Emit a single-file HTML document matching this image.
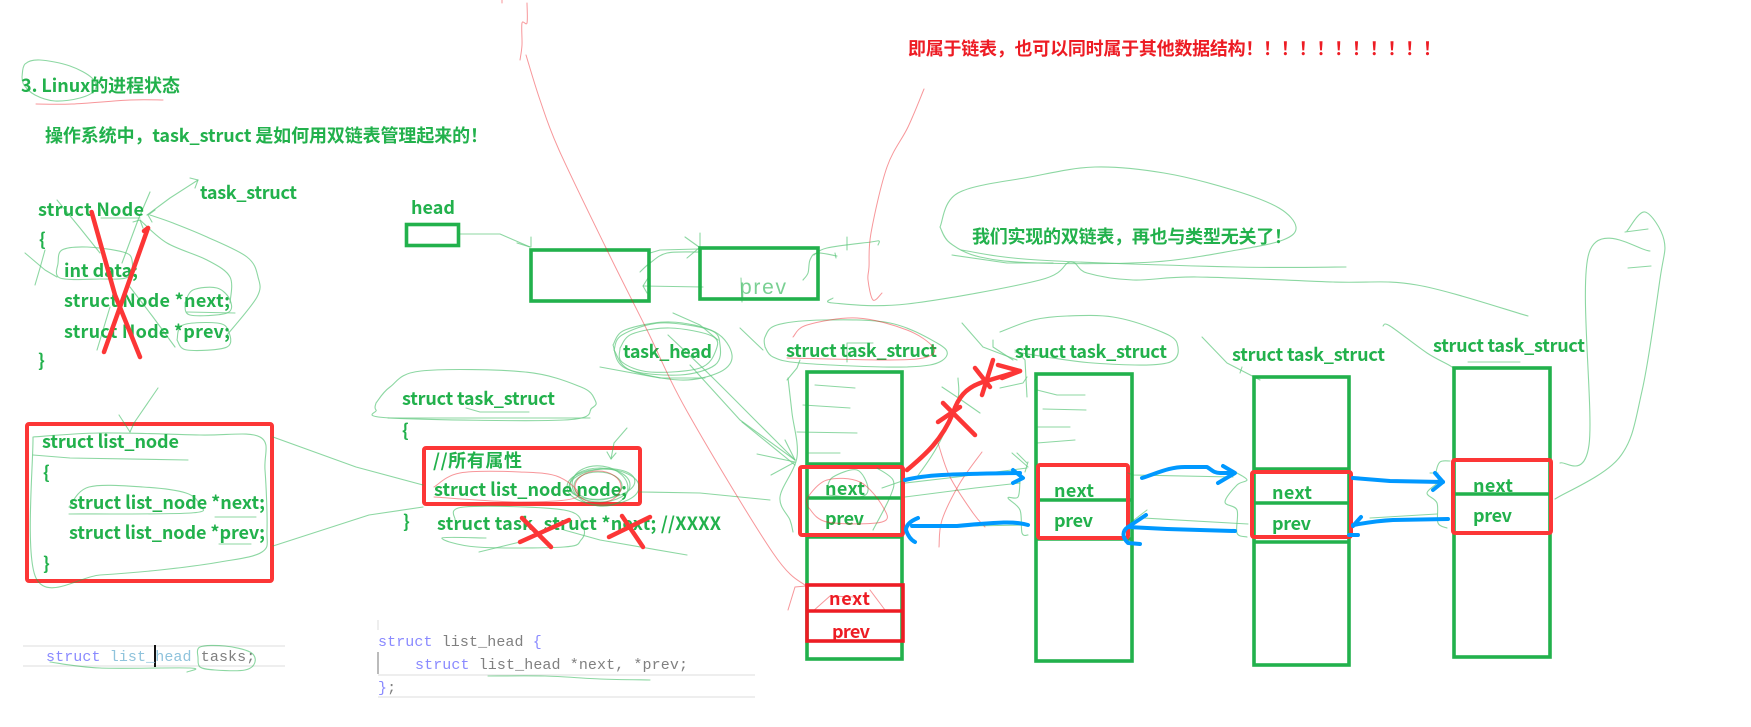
<!DOCTYPE html>
<html lang="zh"><head><meta charset="utf-8"><title>task_struct 双链表</title>
<style>
html,body{margin:0;padding:0;background:#fff;width:1751px;height:727px;overflow:hidden}
svg{display:block}
text{font-family:"Noto Sans CJK SC","Liberation Sans",sans-serif;font-size:18px;font-weight:700;fill:#22b14c}
.r{fill:#ed1c24}
.c{font-family:"Liberation Mono",monospace;font-size:15px;font-weight:400;fill:#808080;white-space:pre;letter-spacing:.1px}
.k{fill:#8a8aff}.t{fill:#8fc3dc}
.g,.g *{fill:none;stroke:#22b14c;stroke-width:1.1;opacity:.72;stroke-linejoin:round;stroke-linecap:round}
.tr,.tr *{fill:none;stroke:#ed1c24;stroke-width:1;opacity:.68;stroke-linejoin:round;stroke-linecap:round}
.bx{fill:none;stroke:#22b14c;stroke-width:3.6}
.rb{fill:none;stroke:#fc3636;stroke-width:4;stroke-linejoin:round}
.rs{fill:none;stroke:#fc3636;stroke-width:4.5;stroke-linecap:round;stroke-linejoin:round}
.bl{fill:none;stroke:#0098ff;stroke-width:4;stroke-linecap:round;stroke-linejoin:round}
</style></head><body>
<svg width="1751" height="727" viewBox="0 0 1751 727" xmlns="http://www.w3.org/2000/svg">
<!-- code strips -->
<g fill="#eeeeee">
<rect x="23" y="645" width="262" height="2"/><rect x="23" y="665" width="262" height="2"/>
<rect x="378" y="674" width="377" height="2"/><rect x="378" y="696" width="377" height="2"/>
<rect x="377" y="620" width="2" height="10"/>
</g>
<rect x="377" y="652" width="2" height="22" fill="#bbb"/>
<rect x="154" y="645" width="2" height="22" fill="#111"/>
<text class="c" x="46" y="661"><tspan class="k">struct</tspan> <tspan class="t">list_head</tspan> tasks;</text>
<text class="c" x="378" y="646"><tspan class="k">struct</tspan> list_head <tspan class="k">{</tspan></text>
<text class="c" x="415" y="669"><tspan class="k">struct</tspan> list_head *next, *prev;</text>
<text class="c" x="378" y="692"><tspan class="k">}</tspan>;</text>

<!-- green boxes -->
<rect class="bx" x="406.5" y="224.5" width="52" height="21"/>
<rect class="bx" x="531" y="250" width="118" height="51"/>
<rect class="bx" x="700" y="248" width="118" height="51"/>
<g class="bx">
<rect x="807" y="372" width="95" height="287"/><path d="M807 464H902M807 498H902M807 537H902"/>
<rect x="1036" y="374" width="96" height="287"/><path d="M1036 500H1132M1036 539H1132"/>
<rect x="1254" y="377" width="95" height="288"/><path d="M1254 469H1349M1254 503H1349M1254 542H1349"/>
<rect x="1454" y="368" width="96" height="289"/><path d="M1454 494H1550"/>
</g>

<!-- red boxes -->
<rect class="rb" x="27" y="424" width="245" height="157" rx="2"/>
<rect class="rb" x="424" y="448" width="216" height="56" rx="2"/>
<rect class="rb" x="800" y="467" width="103" height="68" rx="2"/>
<rect class="rb" x="1038" y="465" width="90" height="73" rx="2"/>
<rect class="rb" x="1252" y="472" width="99" height="65" rx="2"/>
<rect class="rb" x="1453" y="460" width="98" height="73" rx="2"/>
<g fill="none" stroke="#ed1c24" stroke-width="3.6">
<rect x="807" y="585" width="96" height="56"/><path d="M807 611H903"/>
</g>

<!-- text -->
<text x="21" y="92" textLength="159">3. Linux的进程状态</text>
<text x="45" y="142" textLength="443">操作系统中，task_struct 是如何用双链表管理起来的！</text>
<text x="200" y="199" textLength="97">task_struct</text>
<text x="38" y="216" textLength="106">struct Node</text>
<text x="39" y="246">{</text>
<text x="64" y="277" textLength="74">int data;</text>
<text x="64" y="307" textLength="166">struct Node *next;</text>
<text x="64" y="338" textLength="166">struct Node *prev;</text>
<text x="38" y="367">}</text>
<text x="42" y="448" textLength="137">struct list_node</text>
<text x="43" y="479">{</text>
<text x="69" y="509" textLength="196">struct list_node *next;</text>
<text x="69" y="539" textLength="196">struct list_node *prev;</text>
<text x="43" y="570">}</text>
<text x="402" y="405" textLength="153">struct task_struct</text>
<text x="402" y="437">{</text>
<text x="433" y="467" textLength="89">//所有属性</text>
<text x="434" y="496" textLength="193">struct list_node node;</text>
<text x="403" y="528">}</text>
<text x="437" y="530" textLength="284">struct task_struct *next; //XXXX</text>
<text x="411" y="214" textLength="44">head</text>
<text x="623" y="358" textLength="89">task_head</text>
<text x="786" y="357" textLength="151">struct task_struct</text>
<text x="1015" y="358" textLength="152">struct task_struct</text>
<text x="1232" y="361" textLength="153">struct task_struct</text>
<text x="1433" y="352" textLength="152">struct task_struct</text>
<text x="825" y="495" textLength="40">next</text><text x="825" y="525" textLength="39">prev</text>
<text x="1054" y="497" textLength="40">next</text><text x="1054" y="527" textLength="39">prev</text>
<text x="1272" y="499" textLength="40">next</text><text x="1272" y="530" textLength="39">prev</text>
<text x="1473" y="492" textLength="40">next</text><text x="1473" y="522" textLength="39">prev</text>
<text class="r" x="829" y="605" textLength="41">next</text>
<text class="r" x="832" y="638" textLength="38">prev</text>
<text class="r" x="908" y="55" textLength="533">即属于链表，也可以同时属于其他数据结构！！！！！！！！！！！</text>
<text x="972" y="243" textLength="320">我们实现的双链表，再也与类型无关了！</text>
<text x="740" y="294" textLength="46" style="font-family:'Liberation Sans',sans-serif;font-weight:400;font-size:21px;fill:#22b14c;opacity:.6">prev</text>

<!-- thin green sketches -->
<g class="g">
<polyline points="22,77 25,64 40,60 70,66 92,78 95,90 80,98 55,101 35,95 24,85 22,77"/>
<polyline points="147,215 170,198 198,180"/><polyline points="190,178 198,180 195,188"/>
<polyline points="57,200 80,228 100,253"/>
<polyline points="58,263 62,250 87,247 123,252 132,260 128,277 100,279 60,278 58,263"/>
<polyline points="25,253 45,270 57,277"/><polyline points="45,250 40,268 35,285"/>
<polyline points="101,218 140,218"/><polyline points="150,192 138,220 122,263"/>
<polyline points="230,303 230,277 207,260 167,243 140,220"/><polyline points="133,222 140,220 143,228"/>
<polyline points="227,335 257,297 258,277 247,257 207,237 173,223 150,215"/><polyline points="152,222 148,215 155,210"/>
<polyline points="185,303 193,290 217,288 230,300 227,313 190,315 185,303"/><polyline points="187,312 235,313"/>
<polyline points="177,340 183,325 217,323 228,330 227,347 187,350 177,340"/>
<polyline points="130,287 153,317 175,347"/><polyline points="110,307 97,350"/>
<polyline points="158,388 134,423 130,432"/><polyline points="119,415 130,432"/>
<polyline points="33,437 100,433 200,435 260,437 265,470 267,530 262,552 220,562 160,570 100,575 36,578 33,437"/>
<polyline points="33,455 70,458 188,460"/>
<polyline points="69,507 89,487 143,487 186,493 199,505 191,513 69,514"/>
<polyline points="215,517 256,517"/><polyline points="219,544 251,544"/>
<polyline points="273,437 356,467 423,485"/><polyline points="273,546 369,515 423,507"/>
<polyline points="376,403 390,387 421,371 525,372 581,387 595,400 592,408 564,420 390,418 376,410 376,403"/>
<polyline points="388,418 590,418"/><polyline points="466,408 480,412 529,412"/>
<polyline points="627,428 614,443 611,459"/><polyline points="607,452 611,459 616,453"/>
<ellipse cx="600" cy="485" rx="30" ry="17"/><ellipse cx="600" cy="486" rx="28" ry="20" transform="rotate(8 600 486)"/><ellipse cx="602" cy="484" rx="33" ry="15" transform="rotate(-6 602 484)"/><ellipse cx="598" cy="486" rx="24" ry="14"/><ellipse cx="603" cy="487" rx="36" ry="18"/>
<polyline points="640,492 700,493 770,500"/>
<polyline points="455,520 464,507 564,510 583,527 581,540 564,547 477,547 442,538 486,538"/>
<polyline points="479,552 520,542"/><polyline points="564,530 600,540 687,555"/>
<polyline points="614,350 622,335 660,323 710,330 720,345 715,365 680,375 630,370 614,350"/>
<polyline points="613,345 625,330 670,322 715,332 732,355 720,372 680,380 625,368 613,345"/>
<polyline points="620,348 632,334 670,328 712,336 716,350 700,368 650,372 622,362 620,348"/>
<polyline points="600,367 660,378 705,378"/><polyline points="673,313 700,325 718,340"/>
<polyline points="668,335 710,375 760,425 795,460"/><polyline points="690,365 740,420 795,460"/>
<polyline points="742,422 795,465"/><polyline points="757,454 795,462 771,475"/><polyline points="785,440 795,460"/>
<polyline points="740,328 763,350"/>
<polyline points="765,347 765,337 777,325 823,320 890,323 937,343 947,355 930,365 883,367 800,363 773,357 765,347"/>
<polyline points="847,362 847,343 873,343"/>
<polyline points="787,380 797,368 800,360"/>
<polyline points="788,378 792,413 797,457 780,497 790,520 793,532"/>
<polyline points="815,385 855,388"/><polyline points="803,405 850,408"/><polyline points="797,432 857,433"/><polyline points="807,453 840,453"/>
<polyline points="827,488 833,477 857,470 868,488 860,497 827,495"/>
<polyline points="873,530 890,497 893,480 877,468"/><polyline points="882,488 905,480"/>
<polyline points="905,483 957,477 1027,468"/><polyline points="905,497 975,488 1020,483"/>
<polyline points="1020,480 1018,497 1008,498 1020,510 1022,533 1028,535"/>
<polyline points="1012,453 1028,467"/><polyline points="1017,453 1027,463"/><polyline points="1028,462 1025,472"/>
<polyline points="912,527 1027,525"/>
<polyline points="942,387 957,397 980,413"/><polyline points="958,378 957,403 937,447 917,477"/>
<polyline points="962,323 983,347 1017,360"/>
<polyline points="1000,332 1033,320 1067,316 1113,317 1157,330 1177,343 1167,363 1093,363 1015,352"/>
<polyline points="993,340 993,347 1013,360"/>
<polyline points="1015,350 1025,360 1027,397"/><polyline points="1000,388 1023,383 1027,377"/>
<polyline points="1037,390 1057,395 1085,395"/><polyline points="1043,409 1086,410"/><polyline points="1037,427 1070,427"/><polyline points="1037,443 1075,440"/>
<polyline points="1128,473 1133,475 1233,477"/>
<polyline points="1237,473 1247,480 1237,485 1225,502 1237,510 1237,533 1247,537"/>
<polyline points="1132,523 1143,518 1248,524"/><polyline points="1147,510 1130,523"/>
<polyline points="1202,337 1227,363 1260,380"/><polyline points="1240,373 1242,367"/>
<polyline points="1383,326 1390,326 1427,353 1452,367 1453,373"/><polyline points="1468,362 1520,362"/>
<polyline points="1450,461 1440,462 1436,473 1438,482 1427,493 1437,503 1438,523 1447,528"/>
<polyline points="1437,514 1370,518"/><polyline points="1430,473 1438,473"/>
<polyline points="1555,499 1619,458 1642,391 1660,279 1664,240 1645,212 1627,231"/>
<polyline points="1560,463 1589,445 1589,253 1650,251"/><polyline points="1628,268 1651,266"/><polyline points="1625,232 1648,229"/>
<polyline points="833,298 833,303 907,304 1040,280 1070,262 1087,273 1133,280 1197,277 1333,282 1417,285 1528,316"/>
<polyline points="940,227 958,193 1030,177 1095,167 1164,173 1233,190 1279,208 1296,227 1283,240 1237,250 1153,262 1038,263 980,257 950,243 940,227"/>
<polyline points="961,250 1038,260 1237,267 1346,267"/><polyline points="952,255 1007,263 1053,263"/>
<polyline points="460,234 500,234 530,247"/><polyline points="517,243 530,247"/><polyline points="531,237 531,247"/>
<polyline points="650,253 660,250 698,249"/><polyline points="640,272 650,263 667,253 698,252"/>
<polyline points="685,237 699,247"/><polyline points="687,258 699,248"/><polyline points="700,233 700,247"/>
<polyline points="703,287 643,286"/><polyline points="648,278 643,286 647,293"/>
<polyline points="741,278 742,302"/>
<polyline points="803,280 808,273 810,260 817,253 837,256"/>
<polyline points="814,255 827,248 871,242 879,241 878,245"/><polyline points="847,237 847,250"/><polyline points="835,253 836,258"/>
<polyline points="50,662 100,668 190,668 187,672"/>
<polyline points="198,658 200,647 225,646 250,652 255,662 245,670 215,670 200,667 198,658"/>
<polyline points="488,676 545,676 600,679 650,680"/>
</g>

<!-- thin red sketches -->
<g class="tr">
<polyline points="36,104 72,104 130,100 163,100"/>
<polyline points="502,0 502,3"/><polyline points="527,3 527,23 522,23 522,45 520,60"/>
<polyline points="526,55 540,100 559,150 607,250 647,330 688,413 773,553 806,586"/>
<polyline points="924,89 908,127 887,167 871,233 869,267 868,280 873,300 882,293"/>
<polyline points="434,487 460,473 520,472 559,477 577,497 520,502 434,497"/>
<ellipse cx="598" cy="487" rx="23" ry="16"/>
<polyline points="793,337 807,325 857,318 907,330 933,347 927,357 890,360 787,358"/>
<polyline points="808,507 808,497 827,480 860,482 883,507 882,522 827,522 808,507"/>
<polyline points="938,443 950,477 973,513 985,527"/><polyline points="982,452 960,483 942,520 939,547"/>
<polyline points="806,586 795,587 788,610"/><polyline points="812,612 830,596 855,597"/><polyline points="870,590 885,610"/>
</g>

<!-- thick red strokes -->
<g class="rs">
<path d="M91.6 212 L115 295 L140 357"/><path d="M148 228 L120 307 L104 352"/><path d="M144 231 L148 228"/>
<path d="M520 542 L569 520"/><path d="M522 518 L551 547"/>
<path d="M609 537 L650 517"/><path d="M622 516 L643 547"/>
<path d="M907 470 C925 455 942 440 953 413 C958 398 965 388 983 382 L1020 371"/><path d="M998 365 L1020 371 L1002 378"/>
<path d="M938 422 L960 407"/><path d="M943 403 L975 435"/>
<path d="M993 360 L982 395"/><path d="M975 368 L990 387"/>
</g>

<!-- blue arrows -->
<g class="bl">
<path d="M905 480 C925 475 945 474 1020 473"/><path d="M1013 470 L1023 478 L1013 483"/>
<path d="M1028 525 C1015 521 1000 522 957 526 L912 526"/><path d="M918 518 C908 522 906 527 906 530 C908 536 911 540 915 542"/>
<path d="M1142 478 C1160 472 1170 467 1185 467 L1207 467 C1212 470 1214 473 1220 473 L1233 473"/><path d="M1223 466 L1235 473 L1218 483"/>
<path d="M1235 531 L1167 529 L1128 527"/><path d="M1146 515 L1128 527 C1122 531 1122 537 1128 543 L1140 544"/>
<path d="M1353 478 L1390 481 L1443 482"/><path d="M1435 473 L1443 482 L1433 490"/>
<path d="M1448 519 L1393 520 C1375 521 1365 523 1353 525"/><path d="M1361 517 L1353 526"/><path d="M1349 535 L1358 535"/>
</g>
</svg>
<script>
/* Smooth hand-drawn polylines into curves */
document.querySelectorAll('.g polyline,.tr polyline').forEach(function(e){
  var p=e.getAttribute('points').trim().split(/\s+/).map(function(s){return s.split(',').map(Number)});
  if(p.length<4)return;
  var d='M'+p[0][0]+' '+p[0][1];
  for(var i=0;i<p.length-1;i++){
    var a=p[Math.max(i-1,0)],b=p[i],c=p[i+1],f=p[Math.min(i+2,p.length-1)];
    d+=' C'+(b[0]+(c[0]-a[0])/6)+' '+(b[1]+(c[1]-a[1])/6)+' '+(c[0]-(f[0]-b[0])/6)+' '+(c[1]-(f[1]-b[1])/6)+' '+c[0]+' '+c[1];
  }
  var n=document.createElementNS('http://www.w3.org/2000/svg','path');
  n.setAttribute('d',d);
  e.parentNode.replaceChild(n,e);
});
</script>
</body></html>
